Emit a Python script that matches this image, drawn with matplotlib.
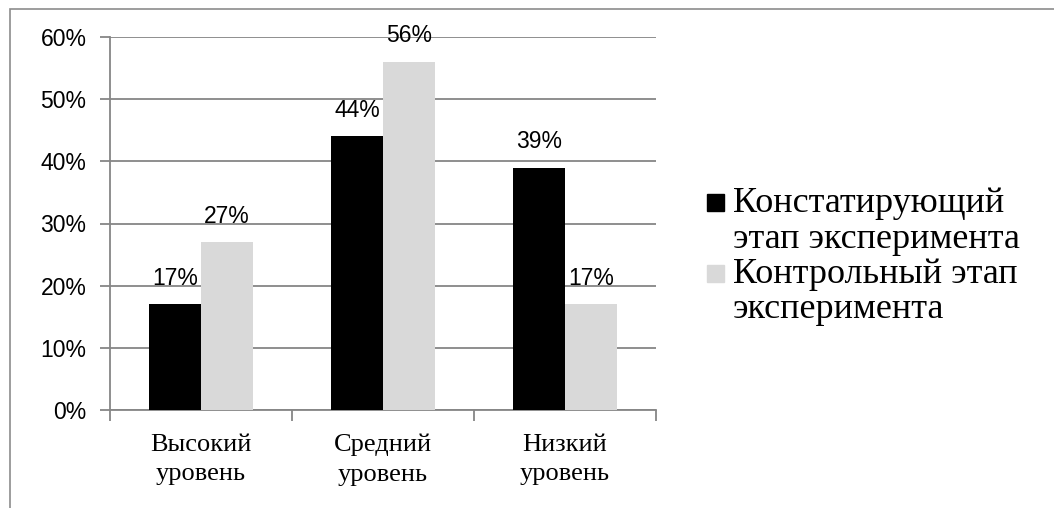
"""Grouped bar chart: levels at ascertaining vs control stage."""

import matplotlib.pyplot as plt
import numpy as np
from matplotlib.patches import Rectangle

categories = ["Высокий\nуровень", "Средний\nуровень", "Низкий\nуровень"]
series_names = [["Констатирующий", "этап эксперимента"], ["Контрольный этап", "эксперимента"]]
stage_ascertaining = [17, 44, 39]
stage_control = [27, 56, 17]
y_ticks = [0, 10, 20, 30, 40, 50, 60]

SANS = ["Liberation Sans", "DejaVu Sans"]
SERIF = ["Liberation Serif", "DejaVu Serif"]
GRID = "#868686"
COLORS = ["#000000", "#d9d9d9"]

W, H = 1054, 508
fig = plt.figure(figsize=(W / 100, H / 100), dpi=100)
ax = fig.add_axes([110 / W, 1 - 410 / H, (656 - 110) / W, (410 - 37) / H])

# outer chart border (runs off the right/bottom edge like the source)
fig.patches.append(
    Rectangle((10 / W, -0.1), 1.2, 1 - 9.5 / H + 0.1, transform=fig.transFigure,
              fill=False, edgecolor="#8c8c8c", lw=1.2, clip_on=False)
)

x = np.arange(len(categories))
width = 0.284
series = [stage_ascertaining, stage_control]
for i, vals in enumerate(series):
    pos = x + (i - 0.5) * width
    ax.bar(pos, vals, width, color=COLORS[i], zorder=3)
    for xp, v in zip(pos, vals):
        ax.annotate(f"{v}%", (xp, v), xytext=(0, 14), textcoords="offset points",
                    ha="center", va="baseline", fontsize=16.5, family=SANS, zorder=4)

ax.set_xlim(-0.5, 2.5)
ax.set_ylim(0, 60)
ax.set_yticks(y_ticks)
ax.set_yticklabels([f"{t}%" for t in y_ticks], fontsize=16.5, family=SANS)
ax.yaxis.grid(True, color=GRID, lw=1.3, zorder=0)

ax.set_xticks(x)
ax.set_xticklabels(categories, fontsize=19, family=SERIF, linespacing=1.45)
ax.set_xticks([-0.5, 0.5, 1.5, 2.5], minor=True)
ax.tick_params(axis="x", which="major", length=0, pad=17)
ax.tick_params(axis="x", which="minor", length=8, width=1.3, color=GRID)
ax.tick_params(axis="y", length=7, width=1.3, color=GRID, pad=10)

for side in ["top", "right"]:
    ax.spines[side].set_visible(False)
for side in ["left", "bottom"]:
    ax.spines[side].set_color(GRID)
    ax.spines[side].set_linewidth(1.3)

# legend drawn by hand so the square sits on the first line of each entry
leg_y = [[212, 247.5], [283, 318.5]]
for lines, color, ys in zip(series_names, COLORS, leg_y):
    fig.patches.append(
        Rectangle((707 / W, 1 - (ys[0] - 1) / H), 17 / W, 17 / H,
                  transform=fig.transFigure, color=color)
    )
    for line, yb in zip(lines, ys):
        fig.text(733 / W, 1 - yb / H, line, fontsize=26, family=SERIF,
                 va="baseline", ha="left")

fig.savefig("out.png", dpi=100)
